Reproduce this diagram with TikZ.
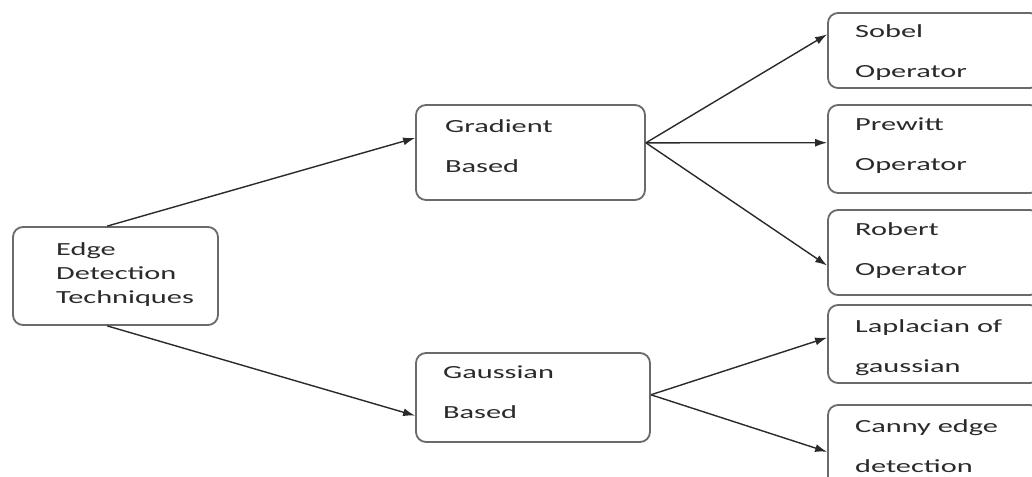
\documentclass[tikz,border=0pt]{standalone}
\usepackage{fontspec}
\setmainfont{Carlito}[FakeStretch=1.64]
\usetikzlibrary{arrows.meta,calc}
\definecolor{boxgray}{HTML}{6A6A6A}
\definecolor{arrgray}{HTML}{2A2A2A}
\definecolor{txtgray}{HTML}{2A2A2A}
\tikzset{
  box/.style={draw=boxgray, line width=1.8pt, rounded corners=10pt, inner sep=0pt, fill=white},
  lbl/.style={anchor=base west, align=left, inner sep=0pt, text=txtgray, font=\fontsize{18.5}{40}\selectfont},
  lbltight/.style={lbl, font=\fontsize{18.5}{24}\selectfont},
  conn/.style={draw=arrgray, line width=1.4pt, -{Latex[length=12pt,width=8pt]}}
}
\begin{document}
\begin{tikzpicture}[x=1pt,y=-1pt]
\clip (0,0) rectangle (1032,476);
\fill[white] (0,0) rectangle (1032,476);
% boxes
\node[box, minimum width=205pt, minimum height=98pt] (edge) at (115.5,276) {};
\node[box, minimum width=229pt, minimum height=95pt] (grad) at (530.5,152.5) {};
\node[box, minimum width=234pt, minimum height=89pt] (gauss) at (533,397.5) {};
\node[box, minimum width=212pt, minimum height=75pt] (sobel) at (934,50.5) {};
\node[box, minimum width=212pt, minimum height=88pt] (prewitt) at (934,149) {};
\node[box, minimum width=212pt, minimum height=85pt] (robert) at (934,252.5) {};
\node[box, minimum width=212pt, minimum height=78pt] (lap) at (934,344) {};
\node[box, minimum width=212pt, minimum height=85pt] (canny) at (934,447.5) {};
% labels (anchored at the baseline of the last line)
\node[lbltight] (edgeT) at (56,303) {Edge\\Detection\\Techniques};
\node[lbl] (gradT) at (445,172) {Gradient\\Based};
\node[lbl] (gaussT) at (443,418) {Gaussian\\Based};
\node[lbl] (sobelT) at (855,78) {Sobel\\Operator};
\node[lbl] (prewittT) at (855,170) {Prewitt\\Operator};
\node[lbl] (robertT) at (855,275) {Robert\\Operator};
\node[lbl] (lapT) at (855,372) {Laplacian of\\gaussian};
\node[lbl] (cannyT) at (855,472) {Canny edge\\detection};
% connectors
\draw[conn] ($(edge.north west)!0.46!(edge.north east)$) -- ($(grad.north west)!0.35!(grad.south west)$);
\draw[conn] ($(edge.south west)!0.46!(edge.south east)$) -- ($(gauss.north west)!0.70!(gauss.south west)$);
\coordinate (gradOut) at ($(grad.north east)!0.40!(grad.south east)$);
\coordinate (gaussOut) at ($(gauss.north east)!0.47!(gauss.south east)$);
\draw[conn] (gradOut) -- ($(sobel.north west)!0.29!(sobel.south west)$);
\draw[conn] (gradOut) -- ($(prewitt.north west)!0.43!(prewitt.south west)$);
\draw[conn] (gradOut) -- ($(robert.north west)!0.65!(robert.south west)$);
\draw[conn] (gaussOut) -- ($(lap.north west)!0.42!(lap.south west)$);
\draw[conn] (gaussOut) -- ($(canny.north west)!0.55!(canny.south west)$);
\end{tikzpicture}
\end{document}
